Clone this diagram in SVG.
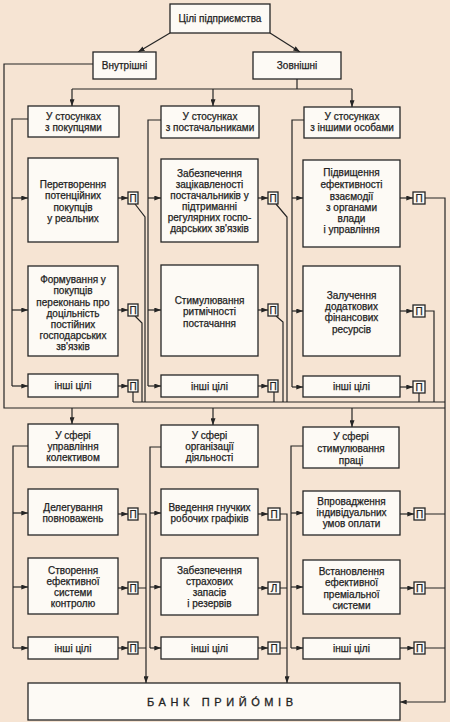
<svg xmlns="http://www.w3.org/2000/svg" width="450" height="722" viewBox="0 0 450 722">
<defs>
<style>
.bg{fill:#f6e4d3}
.b{fill:#fdfaf5;stroke:#252525;stroke-width:1.3}
.t{font-family:"Liberation Sans",Arial,sans-serif;font-size:10px;fill:#222;stroke:#222;stroke-width:0.25;text-anchor:middle}
.p{font-family:"Liberation Sans",Arial,sans-serif;font-size:10px;fill:#222;stroke:#222;stroke-width:0.25;text-anchor:middle}
.c{fill:none;stroke:#252525;stroke-width:1.2}
.a{marker-end:url(#ah)}
</style>
<marker id="ah" viewBox="0 0 8 6" refX="8" refY="3" markerWidth="7" markerHeight="5" orient="auto" markerUnits="userSpaceOnUse"><path d="M0,0 L8,3 L0,6 z" fill="#252525"/></marker>
</defs>
<rect class="bg" x="0" y="0" width="450" height="722"/>

<g id="connectors">
<path class="c a" d="M170,33 L138,52"/>
<path class="c a" d="M270,33 L300,52"/>
<path class="c" d="M93,64 H4 V408 H445"/>
<path class="c" d="M297,79 V89 M72,89 H352"/>
<path class="c a" d="M72,89 V106"/>
<path class="c a" d="M213,89 V106"/>
<path class="c a" d="M352,89 V107"/>

<path class="c" d="M28,119 H12 V386"/>
<path class="c a" d="M12,198 H28"/><path class="c a" d="M12,310 H28"/><path class="c a" d="M12,386 H28"/>
<path class="c a" d="M118,198 H128"/><path class="c a" d="M118,310 H128"/><path class="c a" d="M118,386 H128"/>
<path class="c" d="M135,204 L145,217 V402 M135,316 L142,323 V402 M133,392 V402 M133,402 H445"/>

<path class="c" d="M161,120 H148 V386"/>
<path class="c a" d="M148,198 H161"/><path class="c a" d="M148,310 H161"/><path class="c a" d="M148,386 H161"/>
<path class="c a" d="M258,198 H268"/><path class="c a" d="M258,310 H268"/><path class="c a" d="M258,386 H268"/>
<path class="c" d="M276,204 L287,217 V402 M276,316 L283,322 V402 M274,392 V402"/>

<path class="c" d="M304,120 H292 V387"/>
<path class="c a" d="M292,198 H303"/><path class="c a" d="M292,311 H303"/><path class="c a" d="M292,387 H303"/>
<path class="c a" d="M400,198 H413"/><path class="c a" d="M400,311 H413"/><path class="c a" d="M400,387 H413"/>
<path class="c a" d="M425,198 H445 V702 H400"/>
<path class="c" d="M425,311 H434 V402 M419,393 V402"/>

<path class="c a" d="M72,408 V424"/>
<path class="c a" d="M213,408 V425"/>
<path class="c a" d="M352,408 V427"/>

<path class="c" d="M28,446 H13 V648"/>
<path class="c a" d="M13,513 H28"/><path class="c a" d="M13,587 H28"/><path class="c a" d="M13,648 H28"/>
<path class="c a" d="M118,514 H128"/><path class="c a" d="M118,588 H128"/><path class="c a" d="M118,648 H128"/>
<path class="c a" d="M138,514 H146 V683"/>
<path class="c" d="M138,588 H146 M138,648 H146"/>

<path class="c" d="M161,447 H150 V648"/>
<path class="c a" d="M150,513 H161"/><path class="c a" d="M150,587 H161"/><path class="c a" d="M150,648 H161"/>
<path class="c a" d="M258,514 H268"/><path class="c a" d="M258,588 H268"/><path class="c a" d="M258,648 H268"/>
<path class="c a" d="M280,514 H287 V683"/>
<path class="c" d="M280,588 H287 M280,648 H287"/>

<path class="c" d="M303,446 H291 V648"/>
<path class="c a" d="M291,513 H303"/><path class="c a" d="M291,587 H303"/><path class="c a" d="M291,648 H303"/>
<path class="c a" d="M400,514 H414"/><path class="c a" d="M400,588 H414"/><path class="c a" d="M400,648 H414"/>
<path class="c" d="M425,514 H445 M425,588 H445 M425,648 H445"/>
</g>

<g id="goals"><rect class="b" x="170" y="4" width="100" height="29"/><text class="t" x="220" y="22">Цілі підприємства</text></g>
<g id="internal"><rect class="b" x="93" y="52" width="63" height="27"/><text class="t" x="124.5" y="69">Внутрішні</text></g>
<g id="external"><rect class="b" x="253" y="52" width="88" height="27"/><text class="t" x="297" y="69">Зовнішні</text></g>

<g id="h-buyers"><rect class="b" x="28" y="106" width="91" height="31"/><text class="t" x="73.5" y="120">У стосунках</text><text class="t" x="73.5" y="131">з покупцями</text></g>
<g id="h-suppliers"><rect class="b" x="161" y="106" width="98" height="32"/><text class="t" x="210" y="120">У стосунках</text><text class="t" x="210" y="131">з постачальниками</text></g>
<g id="h-others"><rect class="b" x="304" y="107" width="96" height="31"/><text class="t" x="352" y="120">У стосунках</text><text class="t" x="352" y="131">з іншими особами</text></g>

<g id="n-convert"><rect class="b" x="28" y="158" width="90" height="84"/><text class="t" x="73" y="187.5">Перетворення</text><text class="t" x="73" y="199">потенційних</text><text class="t" x="73" y="210.5">покупців</text><text class="t" x="73" y="222">у реальних</text></g>
<g id="p1"><rect class="b" x="128" y="192" width="10" height="12"/><text class="p" x="133" y="201.5">П</text></g>
<g id="n-belief"><rect class="b" x="28" y="266" width="90" height="90"/><text class="t" x="73" y="282.5">Формування у</text><text class="t" x="73" y="294">покупців</text><text class="t" x="73" y="305.5">переконань про</text><text class="t" x="73" y="316.5">доцільність</text><text class="t" x="73" y="327.5">постійних</text><text class="t" x="73" y="338.5">господарських</text><text class="t" x="73" y="349.5">зв'язків</text></g>
<g id="p2"><rect class="b" x="128" y="304" width="10" height="12"/><text class="p" x="133" y="313.5">П</text></g>
<g id="n-other1"><rect class="b" x="28" y="374" width="90" height="23"/><text class="t" x="73" y="389">інші цілі</text></g>
<g id="p3"><rect class="b" x="128" y="380" width="10" height="12"/><text class="p" x="133" y="389.5">П</text></g>

<g id="n-interest"><rect class="b" x="161" y="159" width="97" height="83"/><text class="t" x="209.5" y="176.5">Забезпечення</text><text class="t" x="209.5" y="187.5">зацікавленості</text><text class="t" x="209.5" y="198.5">постачальників у</text><text class="t" x="209.5" y="209.5">підтриманні</text><text class="t" x="209.5" y="220.5">регулярних госпо-</text><text class="t" x="209.5" y="231.5">дарських зв'язків</text></g>
<g id="p4"><rect class="b" x="268" y="192" width="10" height="12"/><text class="p" x="273" y="201.5">П</text></g>
<g id="n-rhythm"><rect class="b" x="161" y="265" width="97" height="91"/><text class="t" x="209.5" y="303.5">Стимулювання</text><text class="t" x="209.5" y="315">ритмічності</text><text class="t" x="209.5" y="326.5">постачання</text></g>
<g id="p5"><rect class="b" x="268" y="304" width="10" height="12"/><text class="p" x="273" y="313.5">П</text></g>
<g id="n-other2"><rect class="b" x="161" y="375" width="97" height="22"/><text class="t" x="209.5" y="389.5">інші цілі</text></g>
<g id="p6"><rect class="b" x="268" y="380" width="10" height="12"/><text class="p" x="273" y="389.5">П</text></g>

<g id="n-authorities"><rect class="b" x="303" y="160" width="97" height="87"/><text class="t" x="351.5" y="176">Підвищення</text><text class="t" x="351.5" y="188">ефективності</text><text class="t" x="351.5" y="199.5">взаємодії</text><text class="t" x="351.5" y="210.5">з органами</text><text class="t" x="351.5" y="221.5">влади</text><text class="t" x="351.5" y="232.5">і управління</text></g>
<g id="p7"><rect class="b" x="413" y="192" width="12" height="12"/><text class="p" x="419" y="201.5">П</text></g>
<g id="n-finance"><rect class="b" x="303" y="266" width="97" height="90"/><text class="t" x="351.5" y="298.5">Залучення</text><text class="t" x="351.5" y="310">додаткових</text><text class="t" x="351.5" y="321">фінансових</text><text class="t" x="351.5" y="332.5">ресурсів</text></g>
<g id="p8"><rect class="b" x="413" y="305" width="12" height="12"/><text class="p" x="419" y="314.5">П</text></g>
<g id="n-other3"><rect class="b" x="303" y="376" width="97" height="21"/><text class="t" x="351.5" y="390">інші цілі</text></g>
<g id="p9"><rect class="b" x="413" y="381" width="12" height="12"/><text class="p" x="419" y="390.5">П</text></g>

<g id="h-team"><rect class="b" x="28" y="424" width="90" height="43"/><text class="t" x="73" y="438.5">У сфері</text><text class="t" x="73" y="449.5">управління</text><text class="t" x="73" y="461">колективом</text></g>
<g id="h-org"><rect class="b" x="161" y="425" width="97" height="42"/><text class="t" x="209.5" y="438.5">У сфері</text><text class="t" x="209.5" y="449.5">організації</text><text class="t" x="209.5" y="461">діяльності</text></g>
<g id="h-labour"><rect class="b" x="303" y="427" width="96" height="41"/><text class="t" x="351" y="439.5">У сфері</text><text class="t" x="351" y="451.5">стимулювання</text><text class="t" x="351" y="463.5">праці</text></g>

<g id="n-deleg"><rect class="b" x="28" y="489" width="90" height="46"/><text class="t" x="73" y="511">Делегування</text><text class="t" x="73" y="522">повноважень</text></g>
<g id="p10"><rect class="b" x="128" y="508" width="10" height="12"/><text class="p" x="133" y="517.5">П</text></g>
<g id="n-control"><rect class="b" x="28" y="558" width="90" height="56"/><text class="t" x="73" y="573.5">Створення</text><text class="t" x="73" y="584.5">ефективної</text><text class="t" x="73" y="595.5">системи</text><text class="t" x="73" y="606.5">контролю</text></g>
<g id="p11"><rect class="b" x="128" y="582" width="10" height="12"/><text class="p" x="133" y="591.5">П</text></g>
<g id="n-other4"><rect class="b" x="28" y="637" width="90" height="22"/><text class="t" x="73" y="651.5">інші цілі</text></g>
<g id="p12"><rect class="b" x="128" y="642" width="10" height="12"/><text class="p" x="133" y="651.5">П</text></g>

<g id="n-flex"><rect class="b" x="161" y="489" width="97" height="46"/><text class="t" x="209.5" y="511">Введення гнучких</text><text class="t" x="209.5" y="522">робочих графіків</text></g>
<g id="p13"><rect class="b" x="268" y="508" width="12" height="12"/><text class="p" x="274" y="517.5">П</text></g>
<g id="n-reserve"><rect class="b" x="161" y="558" width="97" height="57"/><text class="t" x="209.5" y="573.5">Забезпечення</text><text class="t" x="209.5" y="584.5">страхових</text><text class="t" x="209.5" y="595.5">запасів</text><text class="t" x="209.5" y="606.5">і резервів</text></g>
<g id="p14"><rect class="b" x="268" y="582" width="12" height="12"/><text class="p" x="274" y="591.5">Л</text></g>
<g id="n-other5"><rect class="b" x="161" y="637" width="97" height="22"/><text class="t" x="209.5" y="651.5">інші цілі</text></g>
<g id="p15"><rect class="b" x="268" y="642" width="12" height="12"/><text class="p" x="274" y="651.5">П</text></g>

<g id="n-pay"><rect class="b" x="303" y="491" width="97" height="44"/><text class="t" x="351.5" y="505">Впровадження</text><text class="t" x="351.5" y="516">індивідуальних</text><text class="t" x="351.5" y="527">умов оплати</text></g>
<g id="p16"><rect class="b" x="414" y="508" width="11" height="12"/><text class="p" x="419.5" y="517.5">П</text></g>
<g id="n-bonus"><rect class="b" x="303" y="560" width="97" height="54"/><text class="t" x="351.5" y="575">Встановлення</text><text class="t" x="351.5" y="586">ефективної</text><text class="t" x="351.5" y="597.5">преміальної</text><text class="t" x="351.5" y="608.5">системи</text></g>
<g id="p17"><rect class="b" x="414" y="582" width="11" height="12"/><text class="p" x="419.5" y="591.5">П</text></g>
<g id="n-other6"><rect class="b" x="303" y="638" width="97" height="21"/><text class="t" x="351.5" y="652">інші цілі</text></g>
<g id="p18"><rect class="b" x="414" y="642" width="11" height="12"/><text class="p" x="419.5" y="651.5">П</text></g>

<g id="bank"><rect class="b" x="28" y="683" width="372" height="37"/><text x="147" y="706" style="font-family:'Liberation Sans',Arial,sans-serif;font-size:11px;fill:#222;stroke:#222;stroke-width:0.3;letter-spacing:4.6px">БАНК ПРИЙО́МІВ</text></g>
</svg>
